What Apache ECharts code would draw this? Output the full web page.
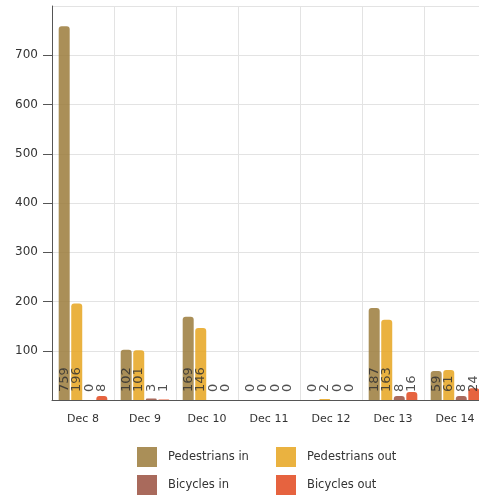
<!DOCTYPE html>
<html>
<head>
<meta charset="utf-8">
<style>
  html, body { margin: 0; padding: 0; background: #fff; overflow: hidden; }
  /* the plot runs a little past the right edge of the window */
  #chart { width: 487px; height: 495px; }
</style>
<script src="https://cdn.jsdelivr.net/npm/echarts@6/dist/echarts.min.js"></script>
</head>
<body>
<div id="chart"></div>
<script>
// Daily counts of people crossing, by direction and mode
const days = ['Dec 8', 'Dec 9', 'Dec 10', 'Dec 11', 'Dec 12', 'Dec 13', 'Dec 14'];
const pedestriansIn  = [759, 102, 169, 0, 0, 187, 59];
const pedestriansOut = [196, 101, 146, 0, 2, 163, 61];
const bicyclesIn     = [0, 3, 0, 0, 0, 8, 8];
const bicyclesOut    = [8, 1, 0, 0, 0, 16, 24];

const seriesDefs = [
  { name: 'Pedestrians in',  data: pedestriansIn,  color: '#9b7b3b' },
  { name: 'Pedestrians out', data: pedestriansOut, color: '#e6a51f' },
  { name: 'Bicycles in',     data: bicyclesIn,     color: '#9a5040' },
  { name: 'Bicycles out',    data: bicyclesOut,    color: '#e2481d' }
];

// legend placement: two columns, two rows
const legendSpots = [
  { left: 137, top: 447 },
  { left: 276, top: 447 },
  { left: 137, top: 475 },
  { left: 276, top: 475 }
];

const FONT = 'DejaVu Sans';
const chart = echarts.init(document.getElementById('chart'), null, { renderer: 'canvas' });

chart.setOption({
  animation: false,
  color: seriesDefs.map(s => s.color),
  grid: { left: 52, top: 6, right: 1, bottom: 95, containLabel: false },
  xAxis: {
    type: 'category',
    data: days,
    boundaryGap: true,
    axisLine: { lineStyle: { color: '#555', width: 1 } },
    axisTick: { alignWithLabel: true, length: 6, lineStyle: { color: '#555' } },
    axisLabel: { color: '#333', fontFamily: FONT, fontSize: 11, margin: 14 },
    splitLine: { show: true, lineStyle: { color: '#e3e3e3', width: 1 } }
  },
  yAxis: {
    type: 'value',
    min: 0,
    max: 800,
    interval: 100,
    axisLine: { show: true, lineStyle: { color: '#555', width: 1 } },
    axisTick: { show: true, length: 9, lineStyle: { color: '#555' } },
    axisLabel: {
      color: '#333', fontFamily: FONT, fontSize: 12, margin: 14,
      showMinLabel: false, showMaxLabel: false
    },
    splitLine: { show: true, lineStyle: { color: '#e3e3e3', width: 1 } }
  },
  legend: seriesDefs.map((s, i) => ({
    data: [s.name],
    orient: 'horizontal',
    left: legendSpots[i].left,
    top: legendSpots[i].top,
    padding: 0,
    itemWidth: 20,
    itemHeight: 20,
    icon: 'rect',
    textStyle: { color: '#333', fontFamily: FONT, fontSize: 11.5, padding: [0, 0, 0, 6] }
  })),
  series: seriesDefs.map(s => ({
    name: s.name,
    type: 'bar',
    data: s.data,
    barWidth: 11,
    barGap: '14%',
    itemStyle: { color: s.color, opacity: 0.85, borderRadius: [3, 3, 0, 0] },
    label: {
      show: true,
      position: 'insideBottom',
      rotate: 90,
      align: 'left',
      verticalAlign: 'middle',
      distance: 8,
      color: '#333',
      fontFamily: FONT,
      fontSize: 13
    }
  }))
});
</script>
</body>
</html>
